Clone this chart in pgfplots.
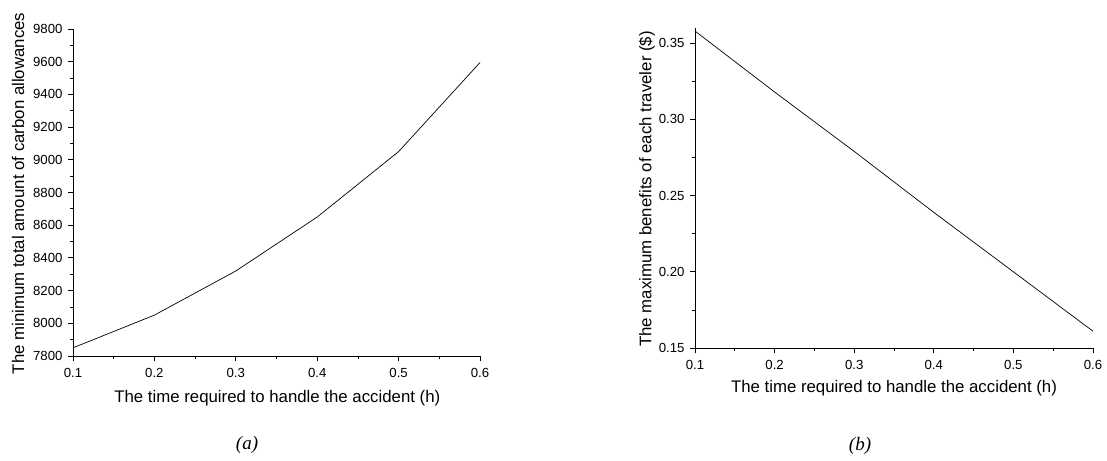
\documentclass[border=0pt]{standalone}
\usepackage{pgfplots}
\pgfplotsset{compat=1.18}
\usepackage{fontspec}
\setmainfont{Liberation Sans}
\newfontfamily\capfont{Liberation Serif}
\begin{document}
\begin{tikzpicture}
\useasboundingbox (0pt,0pt) rectangle (1107pt,460pt);
\pgfplotsset{
  myax/.style={
    scale only axis,
    axis lines*=left,
    tick align=outside,
    major tick length=5pt,
    minor tick length=3pt,
    axis line style={line width=0.9pt},
    every tick/.style={black, line width=0.8pt},
    tick label style={font=\fontsize{13.2}{15}\selectfont},
    label style={font=\fontsize{16.8}{19}\selectfont},
    /pgf/number format/assume math mode=true,
    xmin=0.1, xmax=0.6,
    xtick={0.1,0.2,0.3,0.4,0.5,0.6},
    minor x tick num=1,
    minor y tick num=1,
    xticklabel shift=4pt,
    yticklabel shift=2pt,
    xticklabel style={/pgf/number format/.cd, fixed, precision=1, zerofill},
    xlabel={The time required to handle the accident (h)},
    clip=false,
  }
}
\begin{axis}[myax,
  at={(73pt,104pt)}, anchor=south west, width=407pt, height=327pt,
  ymin=7800, ymax=9800,
  ytick={7800,8000,...,9800},
  yticklabel style={/pgf/number format/.cd, fixed, 1000 sep={}},
  ylabel={The minimum total amount of carbon allowances},
  xlabel style={at={(axis description cs:0.502,-0.128)}, anchor=center},
  ylabel style={at={(axis description cs:-0.135,0.497)}, anchor=center},
]
\addplot[black, line width=0.7pt] coordinates {
  (0.1,7850) (0.2,8050) (0.3,8320) (0.4,8650) (0.5,9050) (0.6,9595)
};
\end{axis}
\begin{axis}[myax,
  at={(695pt,112pt)}, anchor=south west, width=398pt, height=320pt,
  ymin=0.15, ymax=0.36,
  ytick={0.15,0.20,0.25,0.30,0.35},
  minor ytick={0.175,0.225,0.275,0.325},
  minor y tick num=0,
  yticklabel style={/pgf/number format/.cd, fixed, precision=2, zerofill},
  ylabel={The maximum benefits of each traveler (\$)},
  xlabel style={at={(axis description cs:0.5,-0.125)}, anchor=center},
  ylabel style={at={(axis description cs:-0.1206,0.497)}, anchor=center},
]
\addplot[black, line width=0.7pt] coordinates {
  (0.1,0.358) (0.2,0.318) (0.3,0.279) (0.4,0.239) (0.5,0.200) (0.6,0.161)
};
\end{axis}
\node[font=\capfont\itshape\fontsize{19}{21}\selectfont] at (247pt,15pt) {(a)};
\node[font=\capfont\itshape\fontsize{19}{21}\selectfont] at (860pt,14pt) {(b)};
\end{tikzpicture}
\end{document}
